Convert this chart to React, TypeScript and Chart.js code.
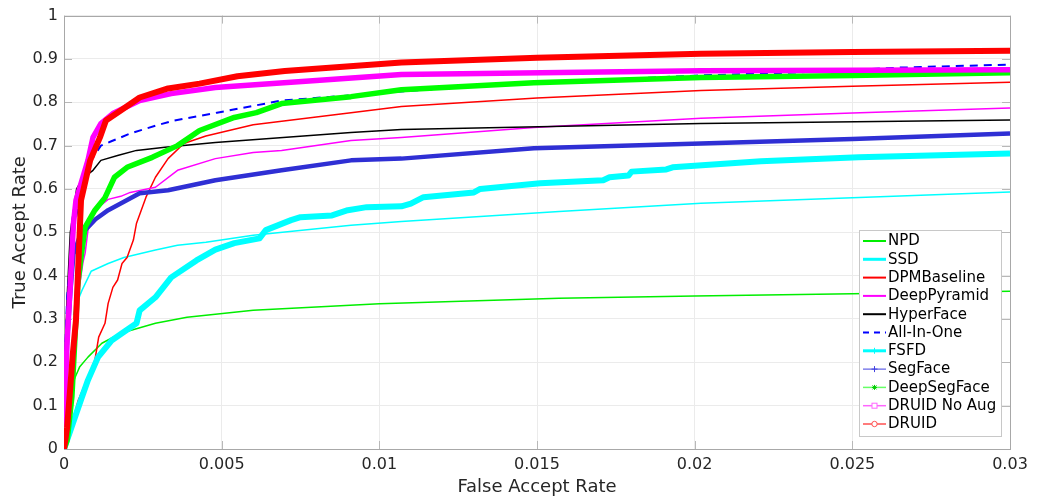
import React, { useEffect, useRef } from 'react';
import { Chart, registerables } from 'chart.js';

Chart.register(...registerables);

// ---------------- data ----------------
const xTickLabels = ['0', '0.005', '0.01', '0.015', '0.02', '0.025', '0.03'];
const yTickLabels = ['0', '0.1', '0.2', '0.3', '0.4', '0.5', '0.6', '0.7', '0.8', '0.9', '1'];

const seriesNames = ['NPD', 'SSD', 'DPMBaseline', 'DeepPyramid', 'HyperFace', 'All-In-One', 'FSFD', 'SegFace', 'DeepSegFace', 'DRUID No Aug', 'DRUID'];

const npdFpr = [0.00028, 0.00035, 0.0005, 0.00076, 0.0012, 0.0018, 0.0029, 0.0039, 0.006, 0.01, 0.0157, 0.02, 0.025, 0.03];
const npdTpr = [0.15, 0.165, 0.19, 0.212, 0.244, 0.267, 0.29, 0.304, 0.32, 0.335, 0.348, 0.353, 0.358, 0.364];

const ssdFpr = [0.0003, 0.00044, 0.00057, 0.00086, 0.0014, 0.0019, 0.0029, 0.0036, 0.0045, 0.006, 0.0091, 0.0107, 0.0157, 0.0202, 0.025, 0.03];
const ssdTpr = [0.31, 0.343, 0.366, 0.41, 0.428, 0.442, 0.459, 0.47, 0.477, 0.493, 0.516, 0.525, 0.548, 0.567, 0.58, 0.593];

const dpmFpr = [0, 0.0002, 0.00044, 0.00076, 0.00098, 0.0011, 0.0013, 0.0014, 0.00155, 0.0017, 0.00184, 0.002, 0.0022, 0.0023, 0.0026, 0.0029, 0.0033, 0.0038, 0.0045, 0.006, 0.0091, 0.0107, 0.015, 0.0202, 0.025, 0.03];
const dpmTpr = [0, 0.044, 0.11, 0.166, 0.205, 0.258, 0.29, 0.336, 0.373, 0.39, 0.428, 0.442, 0.482, 0.521, 0.581, 0.627, 0.67, 0.705, 0.722, 0.748, 0.776, 0.79, 0.81, 0.827, 0.837, 0.846];

const dpyFpr = [0.0002, 0.0004, 0.0006, 0.00067, 0.00076, 0.00098, 0.0014, 0.0018, 0.0021, 0.0029, 0.0036, 0.0048, 0.006, 0.0069, 0.0091, 0.0107, 0.0149, 0.0202, 0.025, 0.03];
const dpyTpr = [0.2, 0.33, 0.43, 0.452, 0.505, 0.551, 0.576, 0.583, 0.592, 0.604, 0.643, 0.67, 0.684, 0.689, 0.712, 0.719, 0.742, 0.763, 0.775, 0.787];

const hyperFpr = [0, 0.0001, 0.0002, 0.0004, 0.0006, 0.00092, 0.00117, 0.0017, 0.0023, 0.0032, 0.0048, 0.0091, 0.0107, 0.0202, 0.03];
const hyperTpr = [0.15, 0.35, 0.5, 0.6, 0.625, 0.643, 0.666, 0.677, 0.689, 0.696, 0.707, 0.73, 0.737, 0.751, 0.759];

const aioFpr = [0, 0.0001, 0.0003, 0.00054, 0.00086, 0.00117, 0.0015, 0.0021, 0.0029, 0.0035, 0.00485, 0.0069, 0.0091, 0.0107, 0.0149, 0.0202, 0.0233, 0.0265, 0.03];
const aioTpr = [0.15, 0.35, 0.5, 0.597, 0.666, 0.7, 0.71, 0.728, 0.746, 0.758, 0.776, 0.804, 0.816, 0.825, 0.845, 0.862, 0.869, 0.88, 0.887];

const fsfdFpr = [0, 0.00035, 0.00057, 0.00076, 0.00108, 0.00152, 0.00184, 0.0023, 0.0024, 0.0029, 0.0034, 0.0042, 0.0048, 0.0054, 0.0062, 0.0064, 0.0072, 0.0075, 0.0085, 0.009, 0.0096, 0.0107, 0.011, 0.0114, 0.013, 0.0132, 0.0151, 0.0171, 0.0173, 0.0179, 0.018, 0.0191, 0.0193, 0.0221, 0.0252, 0.03];
const fsfdTpr = [0, 0.074, 0.12, 0.159, 0.212, 0.251, 0.267, 0.29, 0.32, 0.35, 0.396, 0.435, 0.46, 0.475, 0.486, 0.505, 0.528, 0.535, 0.539, 0.551, 0.558, 0.56, 0.566, 0.581, 0.592, 0.6, 0.613, 0.62, 0.627, 0.631, 0.64, 0.645, 0.65, 0.664, 0.673, 0.682];

const segFpr = [0, 0, 0.0001, 0.0002, 0.0003, 0.0005, 0.00076, 0.001, 0.0014, 0.0024, 0.0033, 0.0048, 0.0069, 0.0091, 0.0107, 0.0149, 0.0202, 0.025, 0.03];
const segTpr = [0.1, 0.155, 0.25, 0.36, 0.45, 0.49, 0.512, 0.53, 0.551, 0.59, 0.597, 0.62, 0.643, 0.666, 0.67, 0.694, 0.705, 0.715, 0.728];

const dsegFpr = [0, 0.0001, 0.00025, 0.00035, 0.00044, 0.00054, 0.00067, 0.00098, 0.0013, 0.0016, 0.002, 0.0028, 0.0036, 0.0043, 0.0054, 0.0061, 0.0069, 0.0091, 0.0107, 0.0149, 0.0202, 0.025, 0.03];
const dsegTpr = [0, 0.02, 0.12, 0.26, 0.382, 0.442, 0.512, 0.551, 0.58, 0.627, 0.65, 0.673, 0.7, 0.735, 0.765, 0.776, 0.797, 0.813, 0.829, 0.845, 0.857, 0.862, 0.868];

const druidNaFpr = [0, 0.0001, 0.0002, 0.0003, 0.00038, 0.00076, 0.00092, 0.00117, 0.00155, 0.0024, 0.0034, 0.0048, 0.008, 0.0107, 0.0202, 0.03];
const druidNaTpr = [0.05, 0.25, 0.38, 0.52, 0.574, 0.666, 0.719, 0.751, 0.774, 0.804, 0.82, 0.834, 0.85, 0.864, 0.873, 0.875];

const druidFpr = [0, 0.0001, 0.0002, 0.00028, 0.00038, 0.0005, 0.00054, 0.00083, 0.00114, 0.00133, 0.0018, 0.0024, 0.0033, 0.0043, 0.0055, 0.007, 0.0107, 0.015, 0.0202, 0.025, 0.03];
const druidTpr = [0, 0.05, 0.143, 0.22, 0.297, 0.505, 0.574, 0.666, 0.719, 0.758, 0.781, 0.811, 0.832, 0.843, 0.86, 0.872, 0.892, 0.903, 0.912, 0.916, 0.919];

// ---------------- styles ----------------
const seriesX = [npdFpr, ssdFpr, dpmFpr, dpyFpr, hyperFpr, aioFpr, fsfdFpr, segFpr, dsegFpr, druidNaFpr, druidFpr];
const seriesY = [npdTpr, ssdTpr, dpmTpr, dpyTpr, hyperTpr, aioTpr, fsfdTpr, segTpr, dsegTpr, druidNaTpr, druidTpr];
const lineColors = ['#00ee00', '#00ffff', '#ff0000', '#ff00ff', '#000000', '#0000ff', '#00ffff', '#2f2fd4', '#00ff00', '#ff00ff', '#ff0000'];
const lineWidths = [1.5, 1.5, 1.5, 1.5, 1.5, 2, 6, 4.5, 5.5, 5.5, 6];
const legendColors = ['#00ee00', '#00ffff', '#ff0000', '#ff00ff', '#000000', '#0000ff', '#00ffff', '#4040e0', '#66ff66', '#ff66ff', '#ff5050'];
const legendWidths = [2, 3, 2, 2, 2, 2, 3, 1, 1.5, 1.5, 1.5];
const legendMarkers = ['', '', '', '', '', '', 'plus', 'plus', 'star', 'square', 'circle'];

const FONT = 'DejaVu Sans';

const boxPlugin = {
  id: 'matlabBox',
  beforeDatasetsDraw(chart: any) {
    const { ctx, chartArea: a, scales } = chart;
    ctx.save();
    ctx.strokeStyle = '#b8b8b8';
    ctx.lineWidth = 1;
    const tl = 8;
    ctx.beginPath();
    scales.y.ticks.forEach((t: any) => {
      const y = Math.round(scales.y.getPixelForValue(t.value)) + 0.5;
      ctx.moveTo(a.left, y); ctx.lineTo(a.left + tl, y);
      ctx.moveTo(a.right, y); ctx.lineTo(a.right - tl, y);
    });
    scales.x.ticks.forEach((t: any) => {
      const x = Math.round(scales.x.getPixelForValue(t.value)) + 0.5;
      ctx.moveTo(x, a.bottom); ctx.lineTo(x, a.bottom - tl);
      ctx.moveTo(x, a.top); ctx.lineTo(x, a.top + tl);
    });
    ctx.stroke();
    ctx.strokeStyle = '#a8a8a8';
    ctx.strokeRect(Math.round(a.left) + 0.5, Math.round(a.top) + 0.5, Math.round(a.right - a.left), Math.round(a.bottom - a.top));
    ctx.restore();
  },
};

const legendPlugin = {
  id: 'insideLegend',
  afterDraw(chart: any) {
    const { ctx } = chart;
    const bx = 859, by = 230, bw = 142, bh = 206;
    const step = 18.3;
    ctx.save();
    ctx.fillStyle = '#ffffff';
    ctx.fillRect(bx, by, bw, bh);
    ctx.strokeStyle = '#c8c8c8';
    ctx.lineWidth = 1;
    ctx.strokeRect(bx + 0.5, by + 0.5, bw, bh);
    ctx.font = `15px '${FONT}'`;
    ctx.textBaseline = 'middle';
    seriesNames.forEach((name, i) => {
      const y = by + 11 + i * step;
      const x0 = bx + 4, x1 = bx + 27, xm = (x0 + x1) / 2;
      ctx.strokeStyle = legendColors[i];
      ctx.lineWidth = legendWidths[i];
      ctx.setLineDash(i === 5 ? [6, 5] : []);
      ctx.beginPath();
      ctx.moveTo(x0, y); ctx.lineTo(x1, y);
      ctx.stroke();
      ctx.setLineDash([]);
      const m = legendMarkers[i];
      ctx.lineWidth = 1;
      if (m === 'plus') {
        ctx.strokeStyle = legendColors[i];
        ctx.beginPath();
        ctx.moveTo(xm - 3, y); ctx.lineTo(xm + 3, y);
        ctx.moveTo(xm, y - 3); ctx.lineTo(xm, y + 3);
        ctx.stroke();
      } else if (m === 'star') {
        ctx.strokeStyle = '#00cc00';
        ctx.beginPath();
        ctx.moveTo(xm - 2.5, y); ctx.lineTo(xm + 2.5, y);
        ctx.moveTo(xm, y - 2.5); ctx.lineTo(xm, y + 2.5);
        ctx.moveTo(xm - 2, y - 2); ctx.lineTo(xm + 2, y + 2);
        ctx.moveTo(xm - 2, y + 2); ctx.lineTo(xm + 2, y - 2);
        ctx.stroke();
      } else if (m === 'square') {
        ctx.strokeStyle = legendColors[i];
        ctx.fillStyle = '#ffffff';
        ctx.fillRect(xm - 2.5, y - 2.5, 5, 5);
        ctx.strokeRect(xm - 2.5, y - 2.5, 5, 5);
      } else if (m === 'circle') {
        ctx.strokeStyle = legendColors[i];
        ctx.fillStyle = '#ffffff';
        ctx.beginPath();
        ctx.arc(xm, y, 2.7, 0, Math.PI * 2);
        ctx.fill();
        ctx.stroke();
      }
      ctx.fillStyle = '#000000';
      ctx.fillText(name, bx + 29, y + 0.5);
    });
    ctx.restore();
  },
};

export default function App() {
  const ref = useRef<HTMLCanvasElement | null>(null);

  useEffect(() => {
    if (!ref.current) return;
    Chart.defaults.font.family = FONT;
    const datasets = seriesNames.map((name, i) => ({
      label: name,
      data: seriesX[i].map((x, k) => ({ x, y: seriesY[i][k] })),
      borderColor: lineColors[i],
      backgroundColor: lineColors[i],
      borderWidth: lineWidths[i],
      borderDash: i === 5 ? [8, 6] : [],
      pointRadius: 0,
      fill: false,
      tension: 0,
      order: seriesNames.length - i,
      borderJoinStyle: 'round' as const,
      borderCapStyle: 'butt' as const,
    }));

    const chart = new Chart(ref.current, {
      type: 'line',
      data: { datasets },
      options: {
        animation: false,
        responsive: false,
        devicePixelRatio: 1,
        layout: { padding: { top: 15, right: 27, left: 0, bottom: 0 } },
        plugins: { legend: { display: false }, tooltip: { enabled: false } },
        scales: {
          x: {
            type: 'linear',
            min: 0,
            max: 0.03,
            afterFit: (s: any) => { s.height = 52; },
            afterBuildTicks: (s: any) => { s.ticks = xTickLabels.map((_, i) => ({ value: i * 0.005 })); },
            ticks: {
              callback: (_v: any, i: number) => xTickLabels[i],
              font: { size: 16, family: FONT },
              color: '#262626',
              padding: 6,
              maxRotation: 0,
              autoSkip: false,
            },
            grid: { color: '#ebebeb', drawTicks: false },
            border: { display: false },
            title: {
              display: true,
              text: 'False Accept Rate',
              font: { size: 18, family: FONT },
              color: '#262626',
              padding: { top: 0, bottom: 3 },
            },
          },
          y: {
            type: 'linear',
            min: 0,
            max: 1,
            afterFit: (s: any) => { s.width = 64; },
            afterBuildTicks: (s: any) => { s.ticks = yTickLabels.map((_, i) => ({ value: i * 0.1 })); },
            ticks: {
              callback: (_v: any, i: number) => yTickLabels[i],
              font: { size: 16, family: FONT },
              color: '#262626',
              padding: 6,
              autoSkip: false,
            },
            grid: { color: '#ebebeb', drawTicks: false },
            border: { display: false },
            title: {
              display: true,
              text: 'True Accept Rate',
              font: { size: 18, family: FONT },
              color: '#262626',
              padding: { top: 10, bottom: 0 },
            },
          },
        },
      },
      plugins: [boxPlugin, legendPlugin],
    });
    return () => chart.destroy();
  }, []);

  return (
    <div style={{ position: 'absolute', left: 0, top: 0, width: 1037, height: 501, background: '#ffffff' }}>
      <canvas ref={ref} width={1037} height={501} style={{ display: 'block' }} />
    </div>
  );
}
